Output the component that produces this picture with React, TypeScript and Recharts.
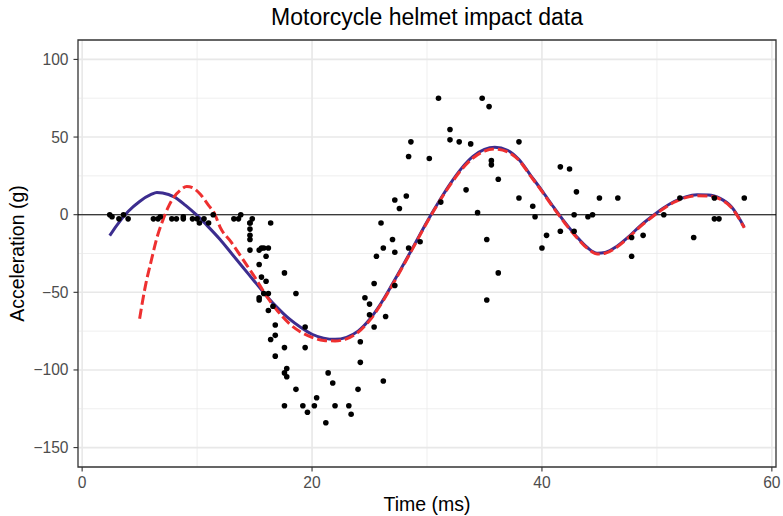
import React from 'react';
import { ComposedChart, Scatter, Line, XAxis, YAxis, CartesianGrid, ReferenceLine, ReferenceArea } from 'recharts';

// mcycle: time after impact (ms) and head acceleration (g)
const times = [
  2.4, 2.6, 3.2, 3.6, 4.0, 6.2, 6.6, 6.8, 7.8, 8.2, 8.8, 8.8, 9.6, 10.0, 10.2, 10.6, 11.0, 11.4, 13.2, 13.6,
  13.8, 14.6, 14.6, 14.6, 14.6, 14.6, 14.6, 14.8, 15.4, 15.4, 15.4, 15.4, 15.6, 15.6, 15.8, 15.8, 16.0, 16.0,
  16.2, 16.2, 16.2, 16.4, 16.4, 16.6, 16.8, 16.8, 16.8, 17.6, 17.6, 17.6, 17.6, 17.8, 17.8, 18.6, 18.6, 19.2,
  19.4, 19.4, 19.6, 20.2, 20.4, 21.2, 21.4, 21.8, 22.0, 23.2, 23.4, 24.0, 24.2, 24.2, 24.6, 25.0, 25.0, 25.4,
  25.4, 25.6, 26.0, 26.2, 26.2, 26.4, 27.0, 27.2, 27.2, 27.2, 27.6, 28.2, 28.4, 28.4, 28.6, 29.4, 30.2, 31.0,
  31.2, 32.0, 32.0, 32.8, 33.4, 33.8, 34.4, 34.8, 35.2, 35.2, 35.4, 35.6, 35.6, 36.2, 36.2, 38.0, 38.0, 39.2,
  39.4, 40.0, 40.4, 41.6, 41.6, 42.4, 42.8, 42.8, 43.0, 44.0, 44.4, 45.0, 46.6, 47.8, 47.8, 48.8, 50.6, 52.0,
  53.2, 55.0, 55.0, 55.4, 57.6,
];
const accel = [
  0.0, -1.3, -2.7, 0.0, -2.7, -2.7, -2.7, -1.3, -2.7, -2.7, -1.3, -2.7, -2.7, -2.7, -5.4, -2.7, -5.4, 0.0, -2.7, -2.7,
  0.0, -13.3, -5.4, -5.4, -9.3, -16.0, -22.8, -2.7, -22.8, -32.1, -53.5, -54.9, -40.2, -21.5, -21.5, -50.8, -42.9, -26.8,
  -21.5, -50.8, -61.7, -5.4, -80.4, -59.0, -71.0, -91.1, -77.7, -37.5, -85.6, -123.1, -101.9, -99.1, -104.4, -112.5, -50.8, -123.1,
  -85.6, -72.3, -127.2, -123.1, -117.9, -134.0, -101.9, -108.4, -123.1, -123.1, -128.5, -112.5, -95.1, -81.8, -53.5, -64.4, -57.6, -72.3,
  -44.3, -26.8, -5.4, -107.1, -21.5, -65.6, -16.0, -45.6, -24.2, 9.5, 4.0, 12.0, -21.5, 37.5, 46.9, -17.4, 36.2, 75.0,
  8.1, 54.9, 48.2, 46.9, 16.0, 45.6, 1.3, 75.0, -16.0, -54.9, 69.6, 34.8, 32.1, -37.5, 22.8, 46.9, 10.7, 5.4,
  -1.3, -21.5, -13.3, 30.8, -10.7, 29.4, 0.0, -10.7, 14.7, -1.3, 0.0, 10.7, 10.7, -26.8, -14.7, -13.3, 0.0, 10.7,
  -14.7, -2.7, 10.7, -2.7, 10.7,
];

// fitted curves
const blueT = [2.4, 3, 4, 5, 6, 6.5, 7, 8, 9, 10, 11, 12, 13, 14, 15, 16, 17, 18, 19, 20, 21, 22, 23, 24, 25, 26, 27, 28, 29, 30, 31, 32, 33, 34, 35, 35.9, 37, 38, 39, 40, 41, 42, 43, 44, 44.8, 45.5, 46.5, 47.5, 48.5, 49.5, 50.5, 51.5, 52.5, 53.5, 54.5, 55.5, 56.5, 57.6];
const blueV = [-13.5, -7, 2, 8.5, 13, 14.3, 14, 11.5, 6, -0.5, -8, -16, -25, -34, -43, -52, -60, -67, -72.5, -77, -79.5, -80.3, -79, -75, -67.5, -57, -44.5, -31.5, -18, -4.5, 8, 19.7, 29.8, 37.5, 42, 43.4, 41.5, 35.5, 25.5, 15.5, 5, -5, -14, -21.5, -24.8, -24.3, -20.5, -14.5, -7.5, -1.5, 4, 8.5, 11.5, 12.8, 12.7, 10.5, 5, -8];
const redT = [5.0, 5.5, 6, 6.5, 7, 7.5, 8, 8.5, 9.1, 9.7, 10.3, 11, 11.5, 12, 13, 14, 15, 16, 17, 18, 19, 20, 21, 22, 23, 24, 25, 26, 27, 28, 29, 30, 31, 32, 33, 34, 35, 35.9, 37, 38, 39, 40, 41, 42, 43, 44, 44.8, 45.5, 46.5, 47.5, 48.5, 49.5, 50.5, 51.5, 52.5, 53.5, 54.5, 55.5, 56.5, 57.6];
const redV = [-67, -46, -30, -15, -4, 5, 11.5, 15.5, 18.2, 17, 13, 6, 1, -8, -18, -29, -40, -52, -62, -70, -75.5, -79, -81, -81.3, -80, -75.8, -68.2, -57.7, -45.2, -32, -18.5, -5, 7.5, 19, 29, 36.5, 41, 42.3, 40.5, 35, 25, 15, 4.5, -5.5, -14.5, -22, -25.3, -24.8, -21, -15, -8, -2, 3.5, 8, 11, 12.2, 12, 10, 4.5, -8.5];

const xTicks = [0, 20, 40, 60];
const xMinor = [10, 30, 50];
const yTicks = [-150, -100, -50, 0, 50, 100];
const yMinor = [-125, -75, -25, 25, 75];
const xDomain: [number, number] = [-0.36, 60.36];
const yDomain: [number, number] = [-162.5, 112.5];

const points = times.map((t, i) => ({ t, a: accel[i] }));
const blueFit = blueT.map((t, i) => ({ t, v: blueV[i] }));
const redFit = redT.map((t, i) => ({ t, v: redV[i] }));

const FONT = '"Liberation Sans", Arial, Helvetica, sans-serif';
const fmt = (v: number) => (v < 0 ? '\u2212' + Math.abs(v) : String(v));

const XTick = (p: any) => (
  <text x={p.x} y={488} textAnchor="middle" fontSize={15.6} fill="#4D4D4D" fontFamily={FONT}>{fmt(p.payload.value)}</text>
);
const YTick = (p: any) => (
  <text x={68.5} y={p.y + 5.5} textAnchor="end" fontSize={15.6} fill="#4D4D4D" fontFamily={FONT}>{fmt(p.payload.value)}</text>
);

export default function App() {
  return (
    <div style={{ position: 'absolute', left: 0, top: 0, width: 783, height: 516, background: '#fff', fontFamily: FONT }}>
      <ComposedChart width={783} height={516} margin={{ top: 40, right: 7, bottom: 0, left: 0 }}>
        <CartesianGrid stroke="#EBEBEB" strokeWidth={0.8} horizontalValues={yMinor} verticalValues={xMinor} />
        <CartesianGrid stroke="#E8E8E8" strokeWidth={1.6} horizontalValues={yTicks} verticalValues={xTicks} />
        <XAxis type="number" dataKey="t" domain={xDomain} allowDataOverflow ticks={xTicks} height={49}
          axisLine={false} tickSize={4.5} tickLine={{ stroke: '#333', strokeWidth: 1.1 }} tick={XTick} />
        <YAxis type="number" domain={yDomain} allowDataOverflow ticks={yTicks} width={78}
          axisLine={false} tickSize={4.5} tickLine={{ stroke: '#333', strokeWidth: 1.1 }} tick={YTick} />
        <ReferenceLine y={0} stroke="#000" strokeWidth={1.1} />
        <Scatter data={points} dataKey="a" isAnimationActive={false}
          shape={(p: any) => <circle cx={p.cx} cy={p.cy} r={2.8} fill="#000" />} />
        <Line data={blueFit} dataKey="v" type="monotone" stroke="#3C2D8F" strokeWidth={3} dot={false} isAnimationActive={false} />
        <Line data={redFit} dataKey="v" type="monotone" stroke="#EE3030" strokeWidth={3} strokeDasharray="10 4" dot={false} isAnimationActive={false} />
        <ReferenceArea x1={xDomain[0]} x2={xDomain[1]} y1={yDomain[0]} y2={yDomain[1]} fill="none" fillOpacity={0} stroke="#333" strokeWidth={1.3} />
      </ComposedChart>
      <svg width={783} height={516} style={{ position: 'absolute', left: 0, top: 0, pointerEvents: 'none' }}>
        <text x={427} y={25} textAnchor="middle" fontSize={23} fill="#000" fontFamily={FONT}>Motorcycle helmet impact data</text>
        <text x={427} y={511} textAnchor="middle" fontSize={19.5} fill="#000" fontFamily={FONT}>Time (ms)</text>
        <text x={24} y={253.5} textAnchor="middle" fontSize={19.5} fill="#000" fontFamily={FONT} transform="rotate(-90, 24, 253.5)">Acceleration (g)</text>
      </svg>
    </div>
  );
}
